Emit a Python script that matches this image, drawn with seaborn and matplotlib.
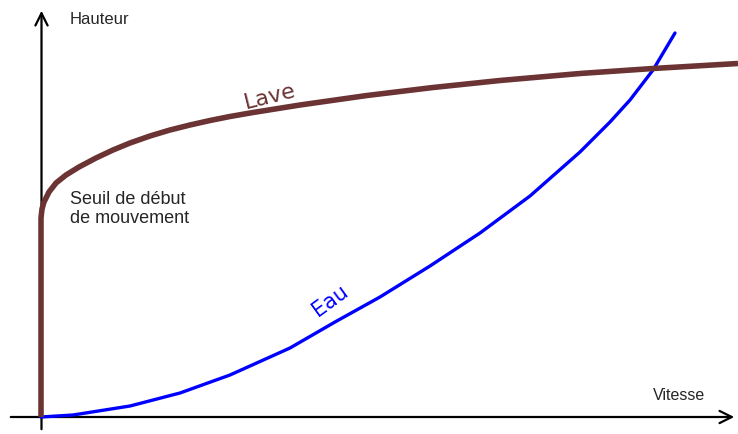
import matplotlib
matplotlib.use("Agg")
import matplotlib.pyplot as plt
import pandas as pd
import seaborn as sns

lave_vitesse = [0, 0, 0, 1, 3, 8, 15, 25, 38, 55, 72, 89, 109, 129, 149, 169, 189, 212,
                259, 326, 392, 459, 539, 612, 697]
lave_hauteur = [0, 100, 199, 208, 215, 225, 234, 242, 250, 259, 267, 274, 281, 287, 292,
                296.5, 300.5, 304.5, 312, 321.5, 329.5, 336.5, 343.5, 348.5, 353.5]

eau_vitesse = [0, 32, 89, 139, 189, 249, 294, 339, 389, 439, 489, 539, 569, 589, 612, 634]
eau_hauteur = [0, 2, 11, 24, 42, 69, 95, 120, 151, 184, 221, 265, 295, 317, 347, 384]

LAVE_COLOR = "#6b3333"
EAU_COLOR = "#0000ff"

sns.set_theme(style="white")
plt.rcParams["font.family"] = ["Liberation Sans", "DejaVu Sans"]

fig = plt.figure(figsize=(7.38, 4.34), dpi=100)
ax = fig.add_axes([0, 0, 1, 1])

df_lave = pd.DataFrame({"v": lave_vitesse, "h": lave_hauteur})
df_eau = pd.DataFrame({"v": eau_vitesse, "h": eau_hauteur})

sns.lineplot(data=df_eau, x="v", y="h", sort=False, estimator=None, color=EAU_COLOR,
             lw=2.4, ax=ax, solid_joinstyle="round")
sns.lineplot(data=df_lave, x="v", y="h", sort=False, estimator=None, color=LAVE_COLOR,
             lw=4.0, ax=ax, solid_capstyle="butt", solid_joinstyle="round")

ax.set_xlim(-41, 697)
ax.set_ylim(-17, 417)
ax.set_axis_off()

# Axes avec flèches
arrow = dict(arrowstyle="->", lw=1.6, color="black", mutation_scale=22)
ax.annotate("", xy=(696, 0), xytext=(-33, 0), arrowprops=arrow, zorder=0)
ax.annotate("", xy=(0.5, 409), xytext=(0.5, -15), arrowprops=arrow, zorder=0)

ax.text(29, 397, "Hauteur", fontsize=12, ha="left", va="center")
ax.text(612, 21, "Vitesse", fontsize=11.5, ha="left", va="center")
ax.text(29, 208, "Seuil de début\nde mouvement", fontsize=13, ha="left", va="center",
        linespacing=1.15)

ax.text(229, 320, "Lave", fontsize=16, color=LAVE_COLOR, rotation=14,
        ha="center", va="center", family=["DejaVu Sans"])
ax.text(289, 116, "Eau", fontsize=15, color=EAU_COLOR, rotation=36,
        ha="center", va="center", family=["DejaVu Sans"])

fig.savefig("out.png", dpi=100, facecolor="white")
